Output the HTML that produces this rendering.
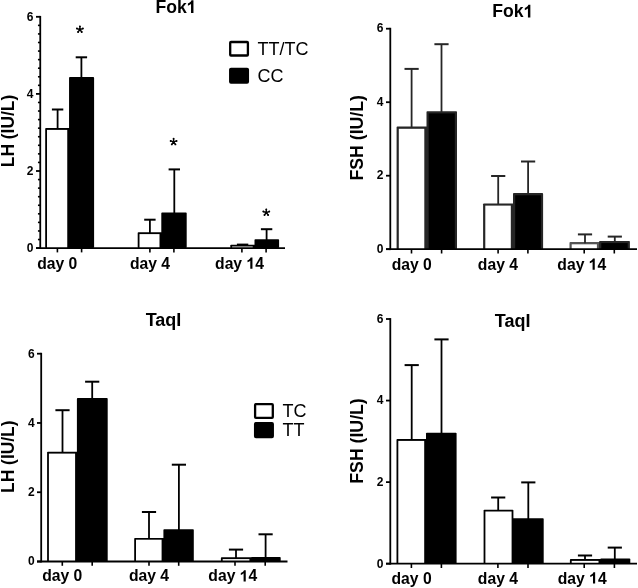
<!DOCTYPE html>
<html><head><meta charset="utf-8"><style>
html,body{margin:0;padding:0;background:#fff;}
svg{display:block;will-change:transform;}
text{font-family:"Liberation Sans", sans-serif;fill:#000;}
</style></head><body>
<svg width="638" height="588" viewBox="0 0 638 588">
<rect width="638" height="588" fill="#fff"/>
<rect x="45.20" y="128.10" width="24.85" height="120.00" rx="0.8" fill="#000"/>
<rect x="47.00" y="129.90" width="20.25" height="118.20" fill="#fff"/>
<rect x="69.05" y="77.10" width="25.05" height="171.00" rx="0.8" fill="#000"/>
<rect x="137.70" y="232.30" width="24.60" height="15.80" rx="0.8" fill="#000"/>
<rect x="139.50" y="234.10" width="20.00" height="14.00" fill="#fff"/>
<rect x="161.30" y="212.60" width="25.40" height="35.50" rx="0.8" fill="#000"/>
<rect x="230.30" y="244.70" width="25.20" height="3.40" rx="0.8" fill="#000"/>
<rect x="232.10" y="246.50" width="20.60" height="1.60" fill="#fff"/>
<rect x="254.50" y="239.30" width="24.60" height="8.80" rx="0.8" fill="#000"/>
<line x1="57.60" y1="129.00" x2="57.60" y2="109.50" stroke="#000" stroke-width="1.8"/>
<line x1="51.90" y1="109.50" x2="63.30" y2="109.50" stroke="#000" stroke-width="2.0"/>
<line x1="81.40" y1="78.00" x2="81.40" y2="57.30" stroke="#000" stroke-width="1.8"/>
<line x1="75.70" y1="57.30" x2="87.10" y2="57.30" stroke="#000" stroke-width="2.0"/>
<line x1="149.90" y1="233.20" x2="149.90" y2="219.70" stroke="#000" stroke-width="1.8"/>
<line x1="144.20" y1="219.70" x2="155.60" y2="219.70" stroke="#000" stroke-width="2.0"/>
<line x1="174.30" y1="213.50" x2="174.30" y2="169.40" stroke="#000" stroke-width="1.8"/>
<line x1="168.60" y1="169.40" x2="180.00" y2="169.40" stroke="#000" stroke-width="2.0"/>
<line x1="242.60" y1="245.60" x2="242.60" y2="244.60" stroke="#000" stroke-width="1.8"/>
<line x1="236.90" y1="244.60" x2="248.30" y2="244.60" stroke="#000" stroke-width="2.0"/>
<line x1="266.60" y1="240.20" x2="266.60" y2="229.20" stroke="#000" stroke-width="1.8"/>
<line x1="260.90" y1="229.20" x2="272.30" y2="229.20" stroke="#000" stroke-width="2.0"/>
<line x1="40.25" y1="15.90" x2="40.25" y2="249.00" stroke="#000" stroke-width="1.8"/>
<line x1="36.00" y1="248.10" x2="285.00" y2="248.10" stroke="#000" stroke-width="1.8"/>
<line x1="36.00" y1="16.80" x2="40.25" y2="16.80" stroke="#000" stroke-width="1.8"/>
<line x1="36.00" y1="93.90" x2="40.25" y2="93.90" stroke="#000" stroke-width="1.8"/>
<line x1="36.00" y1="171.00" x2="40.25" y2="171.00" stroke="#000" stroke-width="1.8"/>
<line x1="36.00" y1="248.10" x2="40.25" y2="248.10" stroke="#000" stroke-width="1.8"/>
<line x1="37.95" y1="25.37" x2="40.25" y2="25.37" stroke="#000" stroke-width="1.6"/>
<line x1="37.95" y1="33.93" x2="40.25" y2="33.93" stroke="#000" stroke-width="1.6"/>
<line x1="37.95" y1="42.50" x2="40.25" y2="42.50" stroke="#000" stroke-width="1.6"/>
<line x1="37.95" y1="51.07" x2="40.25" y2="51.07" stroke="#000" stroke-width="1.6"/>
<line x1="37.95" y1="59.63" x2="40.25" y2="59.63" stroke="#000" stroke-width="1.6"/>
<line x1="37.95" y1="68.20" x2="40.25" y2="68.20" stroke="#000" stroke-width="1.6"/>
<line x1="37.95" y1="76.77" x2="40.25" y2="76.77" stroke="#000" stroke-width="1.6"/>
<line x1="37.95" y1="85.33" x2="40.25" y2="85.33" stroke="#000" stroke-width="1.6"/>
<line x1="37.95" y1="102.47" x2="40.25" y2="102.47" stroke="#000" stroke-width="1.6"/>
<line x1="37.95" y1="111.03" x2="40.25" y2="111.03" stroke="#000" stroke-width="1.6"/>
<line x1="37.95" y1="119.60" x2="40.25" y2="119.60" stroke="#000" stroke-width="1.6"/>
<line x1="37.95" y1="128.17" x2="40.25" y2="128.17" stroke="#000" stroke-width="1.6"/>
<line x1="37.95" y1="136.73" x2="40.25" y2="136.73" stroke="#000" stroke-width="1.6"/>
<line x1="37.95" y1="145.30" x2="40.25" y2="145.30" stroke="#000" stroke-width="1.6"/>
<line x1="37.95" y1="153.87" x2="40.25" y2="153.87" stroke="#000" stroke-width="1.6"/>
<line x1="37.95" y1="162.43" x2="40.25" y2="162.43" stroke="#000" stroke-width="1.6"/>
<line x1="37.95" y1="179.57" x2="40.25" y2="179.57" stroke="#000" stroke-width="1.6"/>
<line x1="37.95" y1="188.13" x2="40.25" y2="188.13" stroke="#000" stroke-width="1.6"/>
<line x1="37.95" y1="196.70" x2="40.25" y2="196.70" stroke="#000" stroke-width="1.6"/>
<line x1="37.95" y1="205.27" x2="40.25" y2="205.27" stroke="#000" stroke-width="1.6"/>
<line x1="37.95" y1="213.83" x2="40.25" y2="213.83" stroke="#000" stroke-width="1.6"/>
<line x1="37.95" y1="222.40" x2="40.25" y2="222.40" stroke="#000" stroke-width="1.6"/>
<line x1="37.95" y1="230.97" x2="40.25" y2="230.97" stroke="#000" stroke-width="1.6"/>
<line x1="37.95" y1="239.53" x2="40.25" y2="239.53" stroke="#000" stroke-width="1.6"/>
<line x1="57.40" y1="248.10" x2="57.40" y2="252.40" stroke="#000" stroke-width="1.6"/>
<line x1="81.60" y1="248.10" x2="81.60" y2="252.40" stroke="#000" stroke-width="1.6"/>
<line x1="149.90" y1="248.10" x2="149.90" y2="252.40" stroke="#000" stroke-width="1.6"/>
<line x1="173.90" y1="248.10" x2="173.90" y2="252.40" stroke="#000" stroke-width="1.6"/>
<line x1="241.90" y1="248.10" x2="241.90" y2="252.40" stroke="#000" stroke-width="1.6"/>
<line x1="266.10" y1="248.10" x2="266.10" y2="252.40" stroke="#000" stroke-width="1.6"/>
<text x="33.50" y="20.70" font-size="12" font-weight="bold" text-anchor="end" >6</text>
<text x="33.50" y="97.80" font-size="12" font-weight="bold" text-anchor="end" >4</text>
<text x="33.50" y="174.90" font-size="12" font-weight="bold" text-anchor="end" >2</text>
<text x="33.50" y="252.00" font-size="12" font-weight="bold" text-anchor="end" >0</text>
<text x="37.13" y="268.80" font-size="15.7" font-weight="bold" xml:space="preserve" transform="translate(0,0.000) scale(1,1.0)">day 0</text>
<text x="129.93" y="268.80" font-size="15.7" font-weight="bold" xml:space="preserve" transform="translate(0,0.000) scale(1,1.0)">day 4</text>
<text x="215.06" y="268.80" font-size="15.7" font-weight="bold" xml:space="preserve" transform="translate(0,0.000) scale(1,1.0)">day </text>
<polygon points="252.45,268.80 250.29,268.80 250.29,260.68 249.70,261.25 248.78,261.81 247.51,262.31 247.51,260.36 248.47,259.98 249.34,259.32 250.16,258.60 250.70,257.56 252.45,257.56"/>
<text x="255.21" y="268.80" font-size="15.7" font-weight="bold" xml:space="preserve" transform="translate(0,0.000) scale(1,1.0)">4</text>
<text x="155.46" y="12.90" font-size="17.6" font-weight="bold" xml:space="preserve" transform="translate(0,0.000) scale(1,1.0)">Fok</text>
<polygon points="193.45,12.90 191.03,12.90 191.03,3.80 190.36,4.44 189.33,5.06 187.91,5.63 187.91,3.44 188.99,3.02 189.96,2.27 190.88,1.47 191.49,0.30 193.45,0.30"/>
<text x="0.00" y="0.00" font-size="17.4" font-weight="bold" text-anchor="middle" transform="translate(13.80,131.00) rotate(-90) scale(1,1.06)">LH (IU/L)</text>
<path d="M79.90,29.50L79.90,26.40M79.90,29.50L82.85,28.54M79.90,29.50L81.72,32.01M79.90,29.50L78.08,32.01M79.90,29.50L76.95,28.54" stroke="#000" stroke-width="1.35" stroke-linecap="round" fill="none"/><circle cx="79.90" cy="26.40" r="0.95"/><circle cx="82.85" cy="28.54" r="0.95"/><circle cx="81.72" cy="32.01" r="0.95"/><circle cx="78.08" cy="32.01" r="0.95"/><circle cx="76.95" cy="28.54" r="0.95"/><circle cx="79.90" cy="29.50" r="1.1"/>
<path d="M173.60,141.90L173.60,138.80M173.60,141.90L176.55,140.94M173.60,141.90L175.42,144.41M173.60,141.90L171.78,144.41M173.60,141.90L170.65,140.94" stroke="#000" stroke-width="1.35" stroke-linecap="round" fill="none"/><circle cx="173.60" cy="138.80" r="0.95"/><circle cx="176.55" cy="140.94" r="0.95"/><circle cx="175.42" cy="144.41" r="0.95"/><circle cx="171.78" cy="144.41" r="0.95"/><circle cx="170.65" cy="140.94" r="0.95"/><circle cx="173.60" cy="141.90" r="1.1"/>
<path d="M266.30,212.50L266.30,209.40M266.30,212.50L269.25,211.54M266.30,212.50L268.12,215.01M266.30,212.50L264.48,215.01M266.30,212.50L263.35,211.54" stroke="#000" stroke-width="1.35" stroke-linecap="round" fill="none"/><circle cx="266.30" cy="209.40" r="0.95"/><circle cx="269.25" cy="211.54" r="0.95"/><circle cx="268.12" cy="215.01" r="0.95"/><circle cx="264.48" cy="215.01" r="0.95"/><circle cx="263.35" cy="211.54" r="0.95"/><circle cx="266.30" cy="212.50" r="1.1"/>
<rect x="230.20" y="42.00" width="17.70" height="13.50" rx="0.8" fill="#fff" stroke="#000" stroke-width="2.3"/>
<text x="257.60" y="54.70" font-size="18" font-weight="normal" text-anchor="start" >TT/TC</text>
<rect x="230.20" y="68.80" width="17.70" height="13.80" rx="0.8" fill="#000" stroke="#000" stroke-width="2.3"/>
<text x="257.60" y="81.50" font-size="18" font-weight="normal" text-anchor="start" >CC</text>
<rect x="396.60" y="126.60" width="30.90" height="122.60" rx="0.8" fill="#262626"/>
<rect x="398.80" y="128.80" width="25.50" height="120.40" fill="#fff"/>
<rect x="426.50" y="111.20" width="30.50" height="138.00" rx="0.8" fill="#262626"/>
<rect x="428.70" y="113.40" width="26.10" height="135.80" fill="#000"/>
<rect x="483.10" y="203.40" width="30.90" height="45.80" rx="0.8" fill="#262626"/>
<rect x="485.30" y="205.60" width="25.50" height="43.60" fill="#fff"/>
<rect x="513.00" y="193.10" width="30.10" height="56.10" rx="0.8" fill="#262626"/>
<rect x="515.20" y="195.30" width="25.70" height="53.90" fill="#000"/>
<rect x="569.50" y="242.10" width="30.60" height="7.10" rx="0.8" fill="#555"/>
<rect x="571.70" y="244.30" width="25.20" height="4.90" fill="#fff"/>
<rect x="599.10" y="240.90" width="30.80" height="8.30" rx="0.8" fill="#262626"/>
<rect x="601.30" y="243.10" width="26.40" height="6.10" fill="#000"/>
<line x1="411.60" y1="127.70" x2="411.60" y2="68.90" stroke="#262626" stroke-width="1.8"/>
<line x1="404.50" y1="68.90" x2="418.70" y2="68.90" stroke="#262626" stroke-width="2.0"/>
<line x1="441.50" y1="112.30" x2="441.50" y2="44.20" stroke="#262626" stroke-width="1.8"/>
<line x1="434.40" y1="44.20" x2="448.60" y2="44.20" stroke="#262626" stroke-width="2.0"/>
<line x1="498.20" y1="204.50" x2="498.20" y2="176.00" stroke="#262626" stroke-width="1.8"/>
<line x1="491.10" y1="176.00" x2="505.30" y2="176.00" stroke="#262626" stroke-width="2.0"/>
<line x1="528.10" y1="194.20" x2="528.10" y2="161.50" stroke="#262626" stroke-width="1.8"/>
<line x1="521.00" y1="161.50" x2="535.20" y2="161.50" stroke="#262626" stroke-width="2.0"/>
<line x1="585.00" y1="243.20" x2="585.00" y2="234.40" stroke="#262626" stroke-width="1.8"/>
<line x1="577.90" y1="234.40" x2="592.10" y2="234.40" stroke="#262626" stroke-width="2.0"/>
<line x1="614.80" y1="242.00" x2="614.80" y2="236.60" stroke="#262626" stroke-width="1.8"/>
<line x1="607.70" y1="236.60" x2="621.90" y2="236.60" stroke="#262626" stroke-width="2.0"/>
<line x1="390.30" y1="27.80" x2="390.30" y2="250.10" stroke="#000" stroke-width="1.8"/>
<line x1="386.00" y1="249.20" x2="637.00" y2="249.20" stroke="#000" stroke-width="1.8"/>
<line x1="386.00" y1="28.70" x2="390.30" y2="28.70" stroke="#000" stroke-width="1.8"/>
<line x1="386.00" y1="102.20" x2="390.30" y2="102.20" stroke="#000" stroke-width="1.8"/>
<line x1="386.00" y1="175.70" x2="390.30" y2="175.70" stroke="#000" stroke-width="1.8"/>
<line x1="386.00" y1="249.20" x2="390.30" y2="249.20" stroke="#000" stroke-width="1.8"/>
<line x1="411.50" y1="249.20" x2="411.50" y2="253.50" stroke="#000" stroke-width="1.6"/>
<line x1="441.60" y1="249.20" x2="441.60" y2="253.50" stroke="#000" stroke-width="1.6"/>
<line x1="498.10" y1="249.20" x2="498.10" y2="253.50" stroke="#000" stroke-width="1.6"/>
<line x1="527.90" y1="249.20" x2="527.90" y2="253.50" stroke="#000" stroke-width="1.6"/>
<line x1="584.20" y1="249.20" x2="584.20" y2="253.50" stroke="#000" stroke-width="1.6"/>
<line x1="614.30" y1="249.20" x2="614.30" y2="253.50" stroke="#000" stroke-width="1.6"/>
<text x="383.50" y="32.00" font-size="12" font-weight="bold" text-anchor="end" >6</text>
<text x="383.50" y="105.50" font-size="12" font-weight="bold" text-anchor="end" >4</text>
<text x="383.50" y="179.00" font-size="12" font-weight="bold" text-anchor="end" >2</text>
<text x="383.50" y="252.50" font-size="12" font-weight="bold" text-anchor="end" >0</text>
<text x="391.63" y="269.80" font-size="15.7" font-weight="bold" xml:space="preserve" transform="translate(0,0.000) scale(1,1.0)">day 0</text>
<text x="477.83" y="269.80" font-size="15.7" font-weight="bold" xml:space="preserve" transform="translate(0,0.000) scale(1,1.0)">day 4</text>
<text x="557.36" y="269.80" font-size="15.7" font-weight="bold" xml:space="preserve" transform="translate(0,0.000) scale(1,1.0)">day </text>
<polygon points="594.75,269.80 592.59,269.80 592.59,261.68 592.00,262.25 591.08,262.81 589.81,263.31 589.81,261.36 590.77,260.98 591.64,260.32 592.46,259.60 593.00,258.56 594.75,258.56"/>
<text x="597.51" y="269.80" font-size="15.7" font-weight="bold" xml:space="preserve" transform="translate(0,0.000) scale(1,1.0)">4</text>
<text x="492.36" y="17.40" font-size="17.6" font-weight="bold" xml:space="preserve" transform="translate(0,0.000) scale(1,1.0)">Fok</text>
<polygon points="530.35,17.40 527.93,17.40 527.93,8.30 527.26,8.94 526.23,9.56 524.81,10.13 524.81,7.94 525.89,7.52 526.86,6.77 527.78,5.97 528.39,4.80 530.35,4.80"/>
<text x="0.00" y="0.00" font-size="17.7" font-weight="bold" text-anchor="middle" transform="translate(363.00,137.80) rotate(-90) scale(1,1.06)">FSH (IU/L)</text>
<rect x="47.10" y="451.80" width="30.80" height="109.70" rx="0.8" fill="#000"/>
<rect x="48.90" y="453.60" width="26.20" height="107.90" fill="#fff"/>
<rect x="76.90" y="398.10" width="30.80" height="163.40" rx="0.8" fill="#000"/>
<rect x="134.20" y="537.90" width="30.20" height="23.60" rx="0.8" fill="#000"/>
<rect x="136.00" y="539.70" width="25.60" height="21.80" fill="#fff"/>
<rect x="163.40" y="529.30" width="30.40" height="32.20" rx="0.8" fill="#000"/>
<rect x="220.90" y="557.30" width="31.30" height="4.20" rx="0.8" fill="#000"/>
<rect x="222.70" y="559.10" width="26.70" height="2.40" fill="#fff"/>
<rect x="251.20" y="556.90" width="29.50" height="4.60" rx="0.8" fill="#000"/>
<line x1="62.50" y1="452.70" x2="62.50" y2="410.20" stroke="#000" stroke-width="1.8"/>
<line x1="55.40" y1="410.20" x2="69.60" y2="410.20" stroke="#000" stroke-width="2.0"/>
<line x1="92.20" y1="399.00" x2="92.20" y2="381.70" stroke="#000" stroke-width="1.8"/>
<line x1="85.10" y1="381.70" x2="99.30" y2="381.70" stroke="#000" stroke-width="2.0"/>
<line x1="149.00" y1="538.80" x2="149.00" y2="512.00" stroke="#000" stroke-width="1.8"/>
<line x1="141.90" y1="512.00" x2="156.10" y2="512.00" stroke="#000" stroke-width="2.0"/>
<line x1="178.90" y1="530.20" x2="178.90" y2="464.70" stroke="#000" stroke-width="1.8"/>
<line x1="171.80" y1="464.70" x2="186.00" y2="464.70" stroke="#000" stroke-width="2.0"/>
<line x1="236.00" y1="558.20" x2="236.00" y2="549.60" stroke="#000" stroke-width="1.8"/>
<line x1="228.90" y1="549.60" x2="243.10" y2="549.60" stroke="#000" stroke-width="2.0"/>
<line x1="265.60" y1="557.80" x2="265.60" y2="534.30" stroke="#000" stroke-width="1.8"/>
<line x1="258.50" y1="534.30" x2="272.70" y2="534.30" stroke="#000" stroke-width="2.0"/>
<line x1="41.20" y1="352.80" x2="41.20" y2="562.40" stroke="#000" stroke-width="1.8"/>
<line x1="37.00" y1="561.50" x2="287.50" y2="561.50" stroke="#000" stroke-width="1.8"/>
<line x1="37.00" y1="353.70" x2="41.20" y2="353.70" stroke="#000" stroke-width="1.8"/>
<line x1="37.00" y1="422.97" x2="41.20" y2="422.97" stroke="#000" stroke-width="1.8"/>
<line x1="37.00" y1="492.23" x2="41.20" y2="492.23" stroke="#000" stroke-width="1.8"/>
<line x1="37.00" y1="561.50" x2="41.20" y2="561.50" stroke="#000" stroke-width="1.8"/>
<line x1="62.30" y1="561.50" x2="62.30" y2="565.80" stroke="#000" stroke-width="1.6"/>
<line x1="92.20" y1="561.50" x2="92.20" y2="565.80" stroke="#000" stroke-width="1.6"/>
<line x1="149.00" y1="561.50" x2="149.00" y2="565.80" stroke="#000" stroke-width="1.6"/>
<line x1="178.70" y1="561.50" x2="178.70" y2="565.80" stroke="#000" stroke-width="1.6"/>
<line x1="235.00" y1="561.50" x2="235.00" y2="565.80" stroke="#000" stroke-width="1.6"/>
<line x1="265.20" y1="561.50" x2="265.20" y2="565.80" stroke="#000" stroke-width="1.6"/>
<text x="34.60" y="357.60" font-size="12" font-weight="bold" text-anchor="end" >6</text>
<text x="34.60" y="426.87" font-size="12" font-weight="bold" text-anchor="end" >4</text>
<text x="34.60" y="496.13" font-size="12" font-weight="bold" text-anchor="end" >2</text>
<text x="34.60" y="565.40" font-size="12" font-weight="bold" text-anchor="end" >0</text>
<text x="42.23" y="581.40" font-size="15.7" font-weight="bold" xml:space="preserve" transform="translate(0,0.000) scale(1,1.0)">day 0</text>
<text x="128.93" y="581.40" font-size="15.7" font-weight="bold" xml:space="preserve" transform="translate(0,0.000) scale(1,1.0)">day 4</text>
<text x="208.36" y="581.40" font-size="15.7" font-weight="bold" xml:space="preserve" transform="translate(0,0.000) scale(1,1.0)">day </text>
<polygon points="245.75,581.40 243.59,581.40 243.59,573.28 243.00,573.85 242.08,574.41 240.81,574.91 240.81,572.96 241.77,572.58 242.64,571.92 243.46,571.20 244.00,570.16 245.75,570.16"/>
<text x="248.51" y="581.40" font-size="15.7" font-weight="bold" xml:space="preserve" transform="translate(0,0.000) scale(1,1.0)">4</text>
<text x="145.70" y="325.50" font-size="18" font-weight="bold" xml:space="preserve" transform="translate(0,0.000) scale(1,1.0)">TaqI</text>
<text x="0.00" y="0.00" font-size="17.4" font-weight="bold" text-anchor="middle" transform="translate(13.80,456.70) rotate(-90) scale(1,1.06)">LH (IU/L)</text>
<rect x="255.10" y="404.20" width="17.70" height="13.60" rx="0.8" fill="#fff" stroke="#000" stroke-width="2.3"/>
<text x="282.60" y="416.90" font-size="18" font-weight="normal" text-anchor="start" >TC</text>
<rect x="255.10" y="423.10" width="17.70" height="14.00" rx="0.8" fill="#000" stroke="#000" stroke-width="2.3"/>
<text x="282.60" y="435.60" font-size="18" font-weight="normal" text-anchor="start" >TT</text>
<rect x="396.50" y="439.10" width="30.50" height="124.60" rx="0.8" fill="#000"/>
<rect x="398.30" y="440.90" width="25.90" height="122.80" fill="#fff"/>
<rect x="426.00" y="432.80" width="30.60" height="130.90" rx="0.8" fill="#000"/>
<rect x="512.40" y="518.30" width="31.30" height="45.40" rx="0.8" fill="#000"/>
<rect x="483.60" y="509.70" width="29.80" height="54.00" rx="0.8" fill="#000"/>
<rect x="485.40" y="511.50" width="26.20" height="52.20" fill="#fff"/>
<rect x="569.90" y="559.10" width="31.40" height="4.60" rx="0.8" fill="#000"/>
<rect x="571.70" y="560.90" width="26.80" height="2.80" fill="#fff"/>
<rect x="600.30" y="558.60" width="30.00" height="5.10" rx="0.8" fill="#000"/>
<line x1="411.70" y1="440.00" x2="411.70" y2="365.10" stroke="#000" stroke-width="1.8"/>
<line x1="404.60" y1="365.10" x2="418.80" y2="365.10" stroke="#000" stroke-width="2.0"/>
<line x1="441.50" y1="433.70" x2="441.50" y2="339.40" stroke="#000" stroke-width="1.8"/>
<line x1="434.40" y1="339.40" x2="448.60" y2="339.40" stroke="#000" stroke-width="2.0"/>
<line x1="498.20" y1="510.60" x2="498.20" y2="497.50" stroke="#000" stroke-width="1.8"/>
<line x1="491.10" y1="497.50" x2="505.30" y2="497.50" stroke="#000" stroke-width="2.0"/>
<line x1="528.30" y1="519.20" x2="528.30" y2="482.40" stroke="#000" stroke-width="1.8"/>
<line x1="521.20" y1="482.40" x2="535.40" y2="482.40" stroke="#000" stroke-width="2.0"/>
<line x1="585.00" y1="560.00" x2="585.00" y2="555.50" stroke="#000" stroke-width="1.8"/>
<line x1="577.90" y1="555.50" x2="592.10" y2="555.50" stroke="#000" stroke-width="2.0"/>
<line x1="614.80" y1="559.50" x2="614.80" y2="547.60" stroke="#000" stroke-width="1.8"/>
<line x1="607.70" y1="547.60" x2="621.90" y2="547.60" stroke="#000" stroke-width="2.0"/>
<line x1="390.30" y1="318.10" x2="390.30" y2="564.60" stroke="#000" stroke-width="1.8"/>
<line x1="386.00" y1="563.70" x2="637.00" y2="563.70" stroke="#000" stroke-width="1.8"/>
<line x1="386.00" y1="319.00" x2="390.30" y2="319.00" stroke="#000" stroke-width="1.8"/>
<line x1="386.00" y1="400.57" x2="390.30" y2="400.57" stroke="#000" stroke-width="1.8"/>
<line x1="386.00" y1="482.13" x2="390.30" y2="482.13" stroke="#000" stroke-width="1.8"/>
<line x1="386.00" y1="563.70" x2="390.30" y2="563.70" stroke="#000" stroke-width="1.8"/>
<line x1="411.40" y1="563.70" x2="411.40" y2="568.00" stroke="#000" stroke-width="1.6"/>
<line x1="441.40" y1="563.70" x2="441.40" y2="568.00" stroke="#000" stroke-width="1.6"/>
<line x1="497.90" y1="563.70" x2="497.90" y2="568.00" stroke="#000" stroke-width="1.6"/>
<line x1="528.00" y1="563.70" x2="528.00" y2="568.00" stroke="#000" stroke-width="1.6"/>
<line x1="584.20" y1="563.70" x2="584.20" y2="568.00" stroke="#000" stroke-width="1.6"/>
<line x1="614.40" y1="563.70" x2="614.40" y2="568.00" stroke="#000" stroke-width="1.6"/>
<text x="383.50" y="322.90" font-size="12" font-weight="bold" text-anchor="end" >6</text>
<text x="383.50" y="404.47" font-size="12" font-weight="bold" text-anchor="end" >4</text>
<text x="383.50" y="486.03" font-size="12" font-weight="bold" text-anchor="end" >2</text>
<text x="383.50" y="567.60" font-size="12" font-weight="bold" text-anchor="end" >0</text>
<text x="391.53" y="583.60" font-size="15.7" font-weight="bold" xml:space="preserve" transform="translate(0,0.000) scale(1,1.0)">day 0</text>
<text x="477.83" y="583.60" font-size="15.7" font-weight="bold" xml:space="preserve" transform="translate(0,0.000) scale(1,1.0)">day 4</text>
<text x="557.76" y="583.60" font-size="15.7" font-weight="bold" xml:space="preserve" transform="translate(0,0.000) scale(1,1.0)">day </text>
<polygon points="595.15,583.60 592.99,583.60 592.99,575.48 592.40,576.05 591.48,576.61 590.21,577.11 590.21,575.16 591.17,574.78 592.04,574.12 592.86,573.40 593.40,572.36 595.15,572.36"/>
<text x="597.91" y="583.60" font-size="15.7" font-weight="bold" xml:space="preserve" transform="translate(0,0.000) scale(1,1.0)">4</text>
<text x="494.80" y="327.10" font-size="18" font-weight="bold" xml:space="preserve" transform="translate(0,0.000) scale(1,1.0)">TaqI</text>
<text x="0.00" y="0.00" font-size="17.7" font-weight="bold" text-anchor="middle" transform="translate(363.30,441.00) rotate(-90) scale(1,1.06)">FSH (IU/L)</text>
</svg>
</body></html>
